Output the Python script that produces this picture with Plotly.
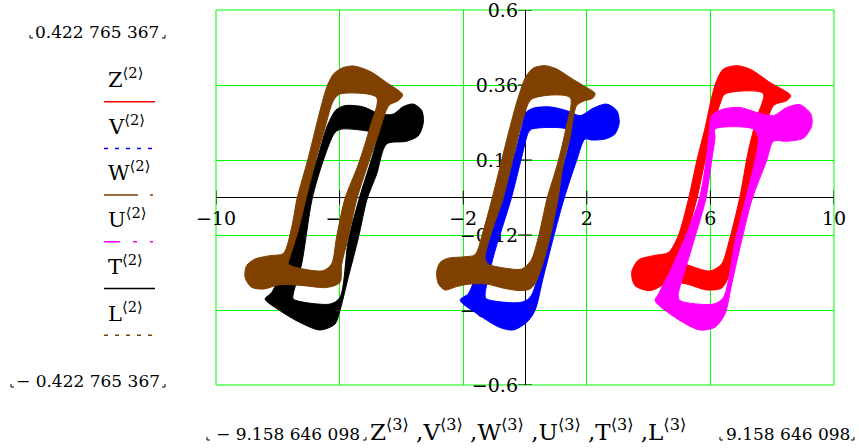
import plotly.graph_objects as go

# ---------------------------------------------------------------------------
# Hysteresis bands: outer edge and inner (hole) edge of every loop, (x, y)
# ---------------------------------------------------------------------------
Z_OUTER = [(6.42, 0.411), (6.85, 0.422), (7.28, 0.411), (7.93, 0.368), (8.60, 0.326),
           (8.47, 0.310), (8.04, 0.294), (7.61, 0.150), (7.14, -0.005), (6.80, -0.149),
           (6.58, -0.256), (6.36, -0.290), (5.88, -0.296), (5.23, -0.277), (4.69, -0.271),
           (4.05, -0.298), (3.56, -0.282), (3.45, -0.240), (3.67, -0.200), (4.15, -0.186),
           (4.64, -0.176), (4.96, -0.122), (5.29, -0.005), (5.56, 0.118), (5.83, 0.224),
           (6.04, 0.320), (6.20, 0.374)]
Z_INNER = [(6.47, 0.331), (7.71, 0.333), (7.50, 0.256), (7.23, 0.150), (6.94, -0.005),
           (6.58, -0.149), (6.36, -0.213), (5.99, -0.235), (5.34, -0.218), (4.96, -0.202),
           (5.23, -0.123), (5.56, -0.005), (5.83, 0.118), (6.10, 0.224), (6.31, 0.299)]

V_OUTER = [(0.03, 0.272), (0.27, 0.286), (0.81, 0.290), (1.35, 0.278), (1.78, 0.262),
           (2.21, 0.286), (2.64, 0.299), (2.97, 0.278), (3.05, 0.240), (2.91, 0.203),
           (2.59, 0.187), (2.16, 0.184), (1.94, 0.187), (1.67, 0.118), (1.26, -0.005),
           (0.92, -0.128), (0.59, -0.256), (0.32, -0.362), (0.05, -0.400), (-0.38, -0.424),
           (-0.81, -0.416), (-1.46, -0.378), (-2.10, -0.328), (-1.83, -0.307), (-1.40, -0.192),
           (-0.75, -0.005), (-0.38, 0.118), (-0.11, 0.224)]
V_INNER = [(0.22, 0.219), (1.35, 0.219), (1.46, 0.198), (0.95, -0.005), (0.70, -0.149),
           (0.16, -0.320), (-0.16, -0.336), (-1.24, -0.325), (-1.29, -0.314), (-1.03, -0.192),
           (-0.45, -0.005), (-0.11, 0.128), (0.11, 0.208)]

W_OUTER = [(0.27, 0.414), (0.65, 0.422), (1.03, 0.411), (1.46, 0.384), (1.89, 0.358),
           (2.27, 0.333), (2.19, 0.318), (1.89, 0.308), (1.67, 0.294), (1.46, 0.192),
           (1.24, 0.107), (1.07, -0.005), (0.81, -0.128), (0.54, -0.224), (0.32, -0.277),
           (0.16, -0.293), (-0.16, -0.298), (-0.70, -0.290), (-1.24, -0.277), (-1.78, -0.277),
           (-2.21, -0.285), (-2.59, -0.296), (-2.80, -0.277), (-2.86, -0.240), (-2.75, -0.208),
           (-2.48, -0.194), (-2.00, -0.190), (-1.62, -0.183), (-1.35, -0.106), (-1.07, -0.005),
           (-0.76, 0.118), (-0.49, 0.224), (-0.22, 0.320), (0.03, 0.387)]
W_INNER = [(0.22, 0.315), (1.46, 0.320), (1.33, 0.224), (1.05, 0.107), (0.71, -0.005),
           (0.43, -0.128), (0.19, -0.202), (-0.11, -0.229), (-0.65, -0.226), (-1.19, -0.213),
           (-1.29, -0.194), (-1.03, -0.096), (-0.71, -0.005), (-0.38, 0.128), (-0.05, 0.256)]

U_OUTER = [(6.04, 0.262), (6.42, 0.283), (6.96, 0.288), (7.50, 0.272), (8.04, 0.262),
           (8.47, 0.288), (8.90, 0.297), (9.25, 0.267), (9.28, 0.230), (9.01, 0.190),
           (8.47, 0.180), (8.04, 0.180), (7.82, 0.118), (7.35, -0.005), (7.01, -0.138),
           (6.69, -0.277), (6.47, -0.373), (6.15, -0.415), (5.66, -0.424), (5.02, -0.394),
           (4.21, -0.330), (4.32, -0.309), (4.75, -0.224), (5.18, -0.128), (5.64, -0.005),
           (5.86, 0.118), (5.97, 0.214)]
U_INNER = [(6.15, 0.219), (7.39, 0.219), (7.55, 0.190), (7.14, -0.005), (6.80, -0.138),
           (6.42, -0.320), (6.10, -0.341), (5.02, -0.330), (4.96, -0.314), (5.34, -0.180),
           (5.85, -0.005), (6.04, 0.118), (6.15, 0.192)]

T_OUTER = [(-6.12, 0.280), (-5.83, 0.294), (-5.23, 0.290), (-4.69, 0.267), (-4.26, 0.267),
           (-3.94, 0.291), (-3.61, 0.299), (-3.34, 0.278), (-3.29, 0.240), (-3.45, 0.198),
           (-3.83, 0.180), (-4.48, 0.171), (-4.80, 0.075), (-5.11, -0.005), (-5.39, -0.128),
           (-5.72, -0.256), (-5.99, -0.362), (-6.15, -0.405), (-6.63, -0.424), (-7.28, -0.400),
           (-7.93, -0.362), (-8.41, -0.325), (-8.20, -0.304), (-7.77, -0.213), (-7.44, -0.122),
           (-7.20, -0.005), (-6.74, 0.118), (-6.42, 0.224)]
T_INNER = [(-5.93, 0.219), (-4.91, 0.208), (-4.80, 0.198), (-5.37, -0.005), (-5.72, -0.138),
           (-5.99, -0.320), (-6.31, -0.341), (-7.50, -0.325), (-7.50, -0.309), (-7.23, -0.213),
           (-6.89, -0.005), (-6.53, 0.118), (-6.15, 0.208)]

L_OUTER = [(-5.93, 0.414), (-5.56, 0.421), (-5.02, 0.404), (-4.48, 0.368), (-3.96, 0.329),
           (-4.10, 0.310), (-4.40, 0.295), (-4.75, 0.200), (-5.10, 0.100), (-5.44, -0.005),
           (-5.72, -0.128), (-5.93, -0.213), (-5.99, -0.272), (-6.42, -0.288), (-7.17, -0.282),
           (-7.93, -0.279), (-8.47, -0.293), (-8.85, -0.287), (-9.06, -0.256), (-9.01, -0.218),
           (-8.74, -0.197), (-8.25, -0.186), (-7.82, -0.179), (-7.55, -0.095), (-7.38, -0.005),
           (-7.01, 0.128), (-6.69, 0.256), (-6.42, 0.352), (-6.20, 0.395)]
L_INNER = [(-5.99, 0.331), (-4.80, 0.320), (-5.02, 0.224), (-5.39, 0.107), (-5.83, -0.005),
           (-6.10, -0.128), (-6.26, -0.213), (-6.53, -0.234), (-7.17, -0.229), (-7.66, -0.213),
           (-7.61, -0.192), (-7.34, -0.106), (-7.09, -0.005), (-6.80, 0.107), (-6.47, 0.224),
           (-6.20, 0.310)]

SERIES = ["Z", "V", "W", "U", "T", "L"]
BANDS = {"Z": (Z_OUTER, Z_INNER), "V": (V_OUTER, V_INNER), "W": (W_OUTER, W_INNER),
         "U": (U_OUTER, U_INNER), "T": (T_OUTER, T_INNER), "L": (L_OUTER, L_INNER)}
COLORS = {"Z": "#ff0000", "V": "#0000ff", "W": "#804000",
          "U": "#ff00ff", "T": "#000000", "L": "#804000"}
DASHES = {"Z": "solid", "V": "4px,7px", "W": "34px,12px,3px,20px",
          "U": "16px,13px,4px,13px,3px,20px", "T": "solid", "L": "4px,7px"}

X_TICKS = [-10, -6, -2, 2, 6, 10]
X_TICKTEXT = ["\u221210", "\u22126", "\u22122", "2", "6", "10"]
Y_TICKS = [-0.6, -0.36, -0.12, 0.12, 0.36, 0.6]
Y_TICKTEXT = ["\u22120.6", "\u22120.36", "\u22120.12", "0.12", "0.36", "0.6"]
X_RANGE = [-10, 10]
Y_RANGE = [-0.6, 0.6]

Y_LIMIT = "0.422 765 367"
X_LIMIT = "9.158 646 098"

# ---------------------------------------------------------------------------
W_FIG, H_FIG = 859, 448
ML, MR, MT, MB = 216, 25, 10, 63
PW, PH = W_FIG - ML - MR, H_FIG - MT - MB
SERIF = "DejaVu Serif"
GREEN = "#00ff00"
TICK_PX = 7


def px(x):
    return (x - ML) / PW


def py(y):
    return (H_FIG - MB - y) / PH


def band_trace(outer, inner, color):
    ox, oy = zip(*outer)
    ix, iy = zip(*inner[::-1])          # hole wound the other way
    xs = list(ox) + [ox[0], None] + list(ix) + [ix[0]]
    ys = list(oy) + [oy[0], None] + list(iy) + [iy[0]]
    return go.Scatter(x=xs, y=ys, mode="lines", fill="toself", fillcolor=color,
                      line=dict(color=color, width=1, shape="spline", smoothing=0.8),
                      hoverinfo="skip", showlegend=False)


fig = go.Figure()

# tick marks crossing the two axes (drawn first so the loops cover them)
dx = TICK_PX * (X_RANGE[1] - X_RANGE[0]) / PW
dy = TICK_PX * (Y_RANGE[1] - Y_RANGE[0]) / PH
tx, ty = [], []
for t in X_TICKS:
    tx += [t, t, None]
    ty += [-dy, dy, None]
for t in Y_TICKS:
    tx += [-dx, dx, None]
    ty += [t, t, None]
fig.add_trace(go.Scatter(x=tx, y=ty, mode="lines", line=dict(color="black", width=1),
                         hoverinfo="skip", showlegend=False, cliponaxis=False))

for s in SERIES:
    outer, inner = BANDS[s]
    fig.add_trace(band_trace(outer, inner, COLORS[s]))

shapes = [dict(type="rect", xref="paper", yref="paper", x0=0, x1=1, y0=0, y1=1,
               line=dict(color=GREEN, width=1), layer="below")]

annotations = []
# legend column
for i, s in enumerate(SERIES):
    base = 87 + 46.7 * i
    annotations.append(dict(xref="paper", yref="paper", x=px(106), y=py(base - 9),
                            xanchor="left", yanchor="middle", showarrow=False,
                            text=f"{s}<sup>\u27e82\u27e9</sup>",
                            font=dict(family=SERIF, size=21, color="black")))
    shapes.append(dict(type="line", xref="paper", yref="paper",
                       x0=px(104), x1=px(155), y0=py(base + 14.7), y1=py(base + 14.7),
                       line=dict(color=COLORS[s], width=1.5, dash=DASHES[s])))


def limit_label(text, x_left, y_mid, corner_left, corner_right):
    annotations.append(dict(xref="paper", yref="paper", x=px(x_left), y=py(y_mid),
                            xanchor="left", yanchor="middle", showarrow=False, text=text,
                            font=dict(family=SERIF, size=17, color="black")))
    for cx, sign in ((corner_left, 1), (corner_right, -1)):
        yb = y_mid + 6
        shapes.append(dict(type="path", xref="paper", yref="paper",
                           path=f"M {px(cx)},{py(yb - 3)} L {px(cx)},{py(yb)} "
                                f"L {px(cx + 3 * sign)},{py(yb)}",
                           line=dict(color="black", width=1)))


limit_label(Y_LIMIT, 33, 32, 30, 165)
limit_label("\u2212 " + Y_LIMIT, 14, 381, 11, 165)
limit_label("\u2212 " + X_LIMIT, 214, 434, 207, 366)
limit_label(X_LIMIT, 724, 434, 720, 854)
annotations.append(dict(xref="paper", yref="paper", x=px(368), y=py(430),
                        xanchor="left", yanchor="middle", showarrow=False,
                        text=" ,".join(f"{s}<sup>\u27e83\u27e9</sup>" for s in SERIES),
                        font=dict(family=SERIF, size=23, color="black")))

axis_common = dict(showgrid=True, gridcolor=GREEN, gridwidth=1, zeroline=True,
                   zerolinecolor="black", zerolinewidth=1, showline=False, ticks="",
                   anchor="free", position=0.5, layer="below traces", automargin=False,
                   tickfont=dict(family=SERIF, size=19, color="black"),
                   ticklabelstandoff=7, ticklabeloverflow="allow", fixedrange=True)

fig.update_layout(
    width=W_FIG, height=H_FIG,
    margin=dict(l=ML, r=MR, t=MT, b=MB, pad=0, autoexpand=False),
    paper_bgcolor="white", plot_bgcolor="white",
    showlegend=False,
    xaxis=dict(range=X_RANGE, tickmode="array", tickvals=X_TICKS, ticktext=X_TICKTEXT,
               **axis_common),
    yaxis=dict(range=Y_RANGE, tickmode="array", tickvals=Y_TICKS, ticktext=Y_TICKTEXT,
               **axis_common),
    shapes=shapes,
    annotations=annotations,
)

fig.write_html("out.html")
